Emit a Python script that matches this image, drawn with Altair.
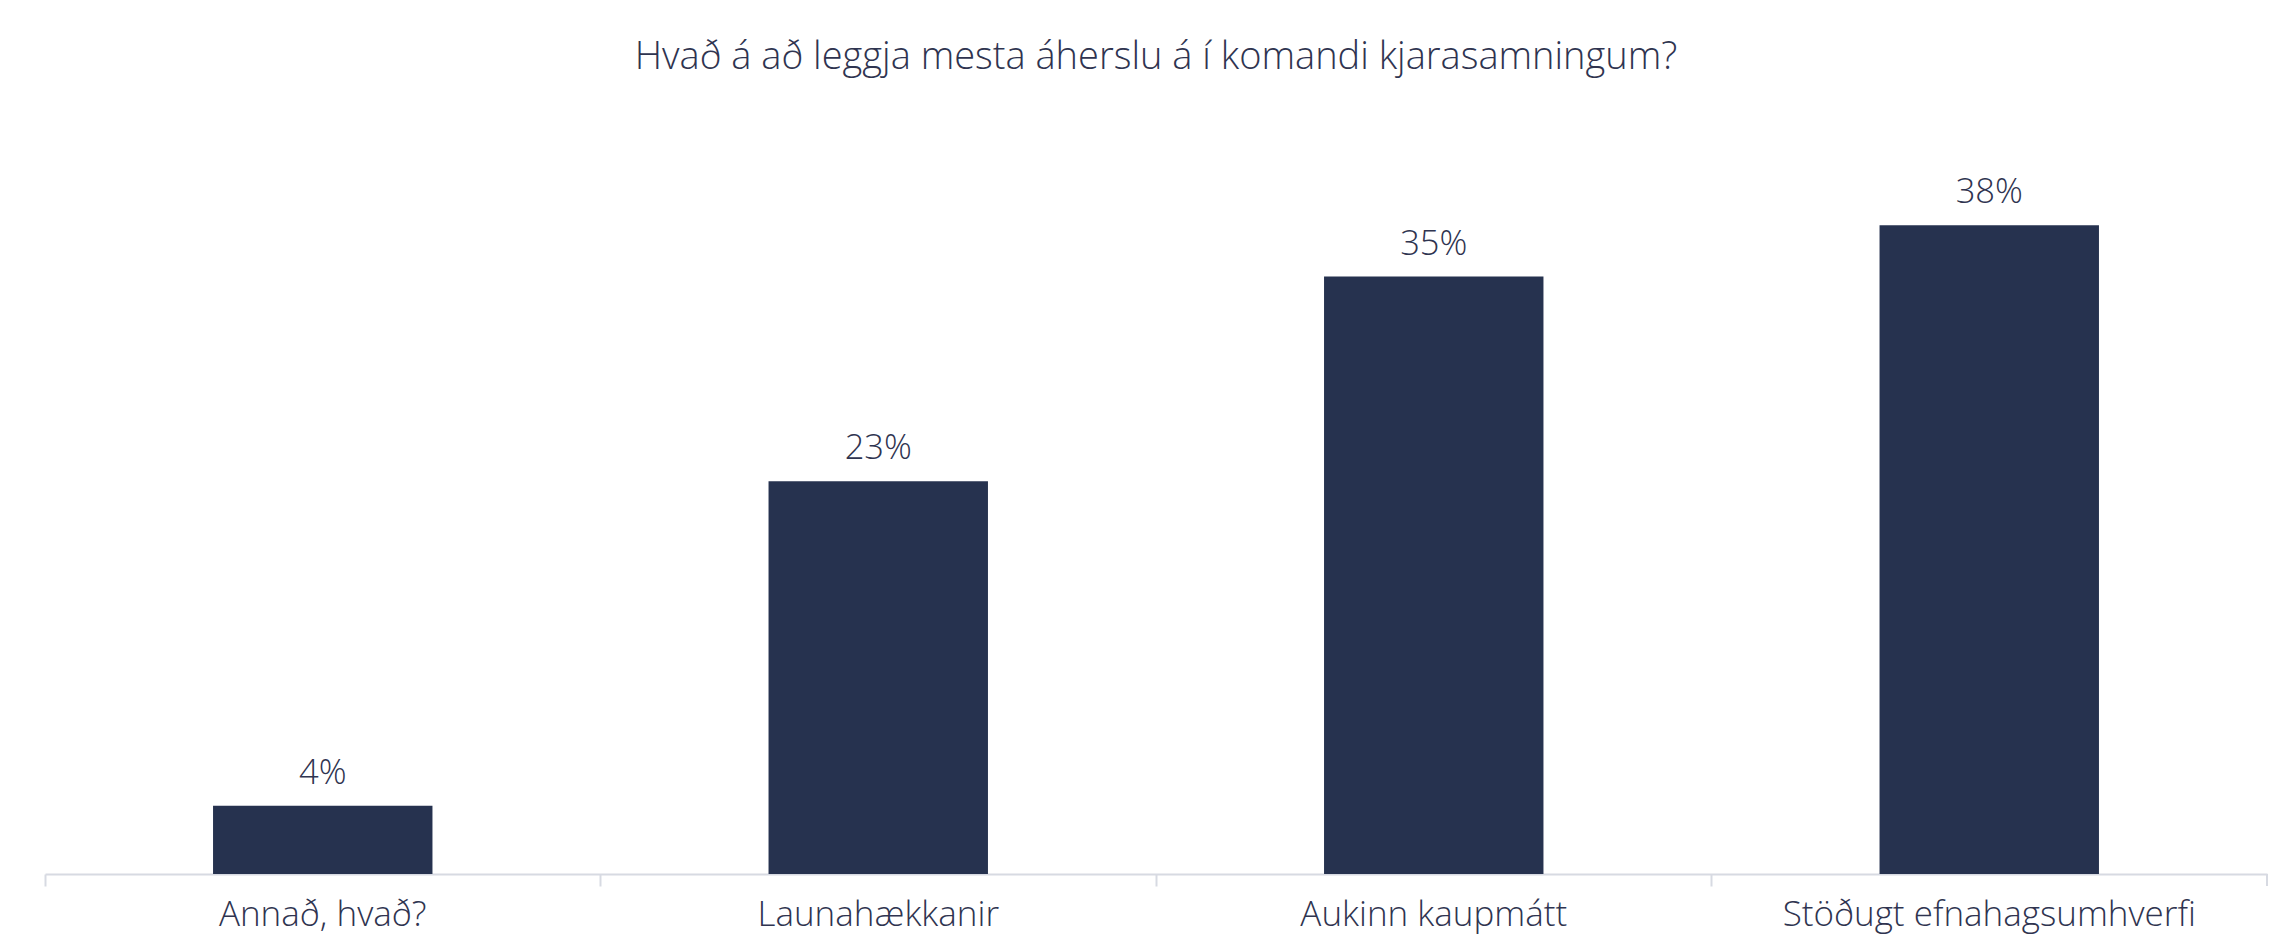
import altair as alt
import pandas as pd

categories = ["Annað, hvað?", "Launahækkanir", "Aukinn kaupmátt", "Stöðugt efnahagsumhverfi"]
values = [4, 23, 35, 38]
labels = ["4%", "23%", "35%", "38%"]

df = pd.DataFrame({"cat": categories, "val": values, "lab": labels})

FONT = "Open Sans"
TEXT = "#2f3450"
BAR = "#26324f"
W = 2222
H = 717

x = alt.X("cat:N", sort=categories, title=None,
          scale=alt.Scale(paddingInner=0, paddingOuter=0),
          axis=alt.Axis(labelAngle=0, bandPosition=0, tickSize=12, labelPadding=11, labelLimit=0,
                        domainColor="#d7dae2", tickColor="#d7dae2", domainWidth=2, tickWidth=2,
                        labelFontSize=35, labelColor=TEXT, labelFont=FONT, labelFontWeight=300))
y = alt.Y("val:Q", scale=alt.Scale(domain=[0, 42]), axis=None)

bars = alt.Chart(df).mark_bar(color=BAR, width=alt.RelativeBandSize(0.395)).encode(x=x, y=y)
text = alt.Chart(df).mark_text(dy=-32, baseline="middle", fontSize=34.5, font=FONT, fontWeight=300,
                               color=TEXT).encode(
    x=alt.X("cat:N", sort=categories), y=y, text="lab:N")
edge = alt.Chart(df.head(1)).mark_rule(color="#d7dae2", strokeWidth=2).encode(
    x=alt.value(W), y=alt.value(H), y2=alt.value(H + 12))

chart = alt.layer(bars, text, edge).properties(
    width=W, height=H,
    background="white",
    title=alt.TitleParams("Hvað á að leggja mesta áherslu á í komandi kjarasamningum?",
                          fontSize=38, font=FONT, fontWeight=300, color=TEXT,
                          anchor="middle", offset=80),
    padding={"left": 36, "top": 31, "right": 8, "bottom": 4},
).configure_view(strokeWidth=0, stroke=None)

chart.save("out.html", embed_options={"renderer": "svg", "actions": False})
